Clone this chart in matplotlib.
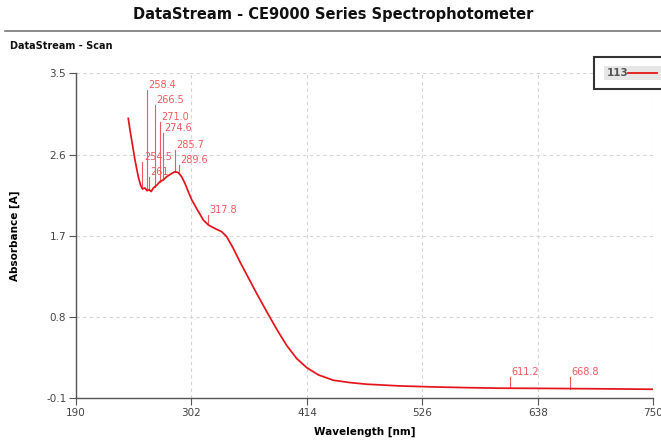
import numpy as np
import matplotlib
matplotlib.use("Agg")
import matplotlib.pyplot as plt
from matplotlib.patches import Rectangle
from matplotlib.lines import Line2D

# scan data (wavelength in nm, absorbance in A)
wavelength = [240.7, 242.4, 244.6, 247.2, 250.4, 252.7, 254.5, 256.9, 259.0, 261.1,
              263.0, 265.0, 268.3, 271.5, 274.7, 278.0, 282.8, 286.0, 289.2, 292.5,
              295.7, 298.9, 302.2, 307.1, 313.5, 318.4, 324.9, 331.3, 336.2, 342.6,
              349.1, 355.6, 365.3, 375.0, 384.7, 394.4, 404.1, 413.8, 425.0, 439.6,
              455.8, 472.0, 504.0, 536.6, 569.0, 601.0, 640.0, 700.0, 750.0]
absorbance = [3.00, 2.87, 2.72, 2.54, 2.355, 2.26, 2.22, 2.23, 2.20, 2.21,
              2.19, 2.23, 2.26, 2.30, 2.32, 2.355, 2.39, 2.41, 2.40, 2.355,
              2.28, 2.19, 2.10, 2.00, 1.875, 1.82, 1.78, 1.746, 1.69, 1.56,
              1.41, 1.27, 1.06, 0.86, 0.665, 0.485, 0.34, 0.24, 0.16, 0.10,
              0.074, 0.056, 0.037, 0.026, 0.018, 0.012, 0.010, 0.005, 0.0]

peak_wl = [258.4, 266.5, 271.0, 274.6, 285.7, 289.6, 254.5, 261.0, 317.8, 611.2, 668.8]
peak_text = ["258.4", "266.5", "271.0", "274.6", "285.7", "289.6", "254.5", "261",
             "317.8", "611.2", "668.8"]
peak_label_y = [3.31, 3.15, 2.96, 2.84, 2.65, 2.48, 2.52, 2.35, 1.93, 0.134, 0.134]

x_ticks = [190, 302, 414, 526, 638, 750]
y_ticks = [-0.1, 0.8, 1.7, 2.6, 3.5]
series_name = "113"

CURVE = "#e3141b"
MARK = "#ef5a5f"
AXC = "#555555"

fig = plt.figure(figsize=(6.61, 4.43), dpi=100)
ax = fig.add_axes([76 / 661, 1 - 398.3 / 443, (653.3 - 76) / 661, (398.3 - 73.3) / 443])

ax.plot(wavelength, absorbance, color=CURVE, lw=1.25, zorder=3)

for wl, txt, ly in zip(peak_wl, peak_text, peak_label_y):
    cy = np.interp(wl, wavelength, absorbance)
    ax.plot([wl, wl], [cy, ly], color=MARK, lw=0.8, zorder=2)
    ax.annotate(txt, (wl, ly), xytext=(1, 0), textcoords="offset points",
                ha="left", va="bottom", fontsize=7, color=MARK)

ax.set_xlim(190, 750)
ax.set_ylim(-0.1, 3.5)
ax.set_xticks(x_ticks)
ax.set_yticks(y_ticks)
ax.set_yticklabels([f"{v:.1f}" for v in y_ticks])
ax.grid(True, color="#d4d4d4", ls=(0, (3, 3)), lw=0.8)
ax.set_axisbelow(True)
for s in ("top", "right"):
    ax.spines[s].set_visible(False)
for s in ("left", "bottom"):
    ax.spines[s].set_color(AXC)
    ax.spines[s].set_linewidth(1.0)
ax.tick_params(direction="out", length=5, color=AXC, labelsize=7.5,
               labelcolor="#444444", pad=2)
ax.set_xlabel("Wavelength [nm]", fontsize=7.5, fontweight="bold", labelpad=6)
ax.set_ylabel("Absorbance [A]", fontsize=7.5, fontweight="bold", labelpad=19)

# header
fig.text(333 / 661, 1 - 14 / 443, "DataStream - CE9000 Series Spectrophotometer",
         ha="center", va="center", fontsize=10.5, fontweight="bold", color="#111111")
fig.add_artist(Line2D([5 / 661, 1], [1 - 31 / 443] * 2, transform=fig.transFigure,
                      color="#777777", lw=1.2))
fig.text(10 / 661, 1 - 46 / 443, "DataStream - Scan", ha="left", va="center",
         fontsize=7, fontweight="bold", color="#111111")

# legend box (runs off the right edge like the original)
fig.add_artist(Rectangle((594 / 661, 1 - 89 / 443), 80 / 661, 32 / 443,
                         transform=fig.transFigure, facecolor="white",
                         edgecolor="#333333", lw=1.5))
fig.add_artist(Rectangle((604 / 661, 1 - 80 / 443), 60 / 661, 14 / 443,
                         transform=fig.transFigure, facecolor="#e6e6e6",
                         edgecolor="none"))
fig.text(607 / 661, 1 - 73 / 443, series_name, ha="left", va="center",
         fontsize=7.5, fontweight="bold", color="#555555")
fig.add_artist(Line2D([628 / 661, 657 / 661], [1 - 73 / 443] * 2,
                      transform=fig.transFigure, color=CURVE, lw=1.3))

fig.savefig("out.png", dpi=100)
